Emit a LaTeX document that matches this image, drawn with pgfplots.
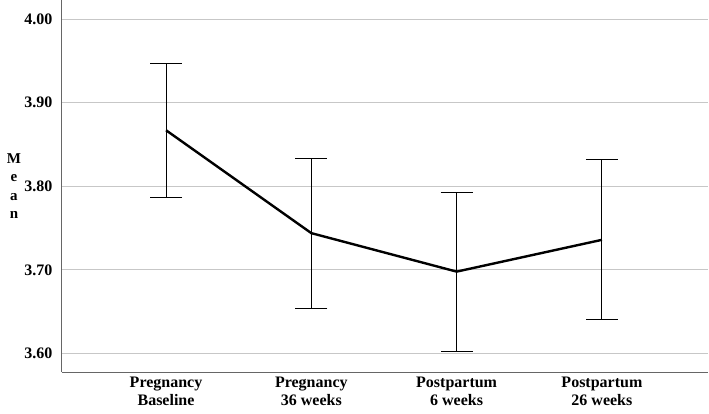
\documentclass[border=0pt]{standalone}
\usepackage{pgfplots}
\pgfplotsset{compat=1.18}
\usepackage{fontspec}
\setmainfont{Liberation Serif}
\begin{document}
\begin{tikzpicture}
\begin{axis}[name=ax, scale only axis, width=646pt, height=372pt,
  xmin=-0.716, xmax=3.73, ymin=3.578, ymax=4.0227,
  axis x line*=bottom, axis y line*=left,
  xtick={0,1,2,3},
  xticklabels={{Pregnancy\\Baseline},{Pregnancy\\36 weeks},{Postpartum\\6 weeks},{Postpartum\\26 weeks}},
  xticklabel style={align=center, yshift=-1pt},
  ytick={3.6,3.7,3.8,3.9,4.0},
  yticklabel style={/pgf/number format/fixed, /pgf/number format/fixed zerofill, /pgf/number format/precision=2, xshift=-6pt},
  /pgf/number format/assume math mode=true,
  major tick length=0pt,
  ymajorgrids, grid style={black!22, line width=0.9pt},
  axis line style={black!60, line width=1pt},
  tick label style={font=\fontsize{16}{18}\selectfont\bfseries},
  ylabel={M\\e\\a\\n},
  ylabel style={rotate=-90, align=center, font=\fontsize{15}{18.5}\selectfont\bfseries, at={(axis description cs:0,0.5)}, anchor=center, xshift=-48pt},
]
\addplot[black, line width=2.4pt, line join=miter, mark=none,
  error bars/.cd, y dir=both, y explicit, error mark=|,
  error bar style={line width=1pt, black},
  error mark options={black, mark size=16pt, line width=1pt}]
  table[x=x, y=y, y error=e] {
x y e
0 3.867 0.080
1 3.744 0.0895
2 3.698 0.095
3 3.736 0.0955
};
\end{axis}
\pgfresetboundingbox
\path ([xshift=-62pt,yshift=-41pt]ax.south west) rectangle ([xshift=1pt]ax.north east);
\end{tikzpicture}
\end{document}
